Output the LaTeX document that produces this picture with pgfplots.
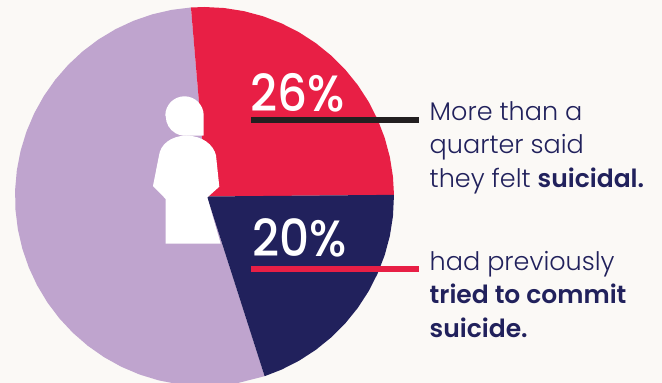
\documentclass[border=0pt]{standalone}
\usepackage{pgfplots}
\pgfplotsset{compat=1.18}
\usepackage{fontspec}
\setmainfont{Poppins Light}
\newfontfamily\semibold{Poppins SemiBold}
\newfontfamily\medium{Poppins Medium}
\definecolor{pageback}{HTML}{FBF9F6}
\definecolor{sharered}{HTML}{E81F45}
\definecolor{sharenavy}{HTML}{21215C}
\definecolor{sharelilac}{HTML}{BFA4CE}
\definecolor{rulekey}{HTML}{231F20}
\newcommand{\heavy}[1]{{\semibold\fontsize{25}{25}\selectfont #1}}
\begin{document}
\begin{tikzpicture}
\begin{axis}[
  scale only axis, width=662pt, height=383pt,
  xmin=-204.5, xmax=457.5, ymin=-186.5, ymax=196.5,
  hide axis, clip=true]
% page background
\fill[pageback] (-204.5,-186.5) rectangle (457.5,196.5);

% rest of the respondents (54%), angles in degrees
\addplot[fill=sharelilac, draw=none, data cs=polar] coordinates {
  (0,2.5) (94.1,189.5) (100,189.5) (106,189.5) (112,189.5) (118,189.5) (124,189.5)
  (130,189.5) (136,189.5) (142,189.5) (148,189.5) (154,189.5) (160,189.5) (166,189.5)
  (172,189.5) (178,189.5) (184,189.5) (190,189.5) (196,189.5) (202,189.5) (208,189.5)
  (214,189.5) (220,189.5) (226,189.5) (232,189.5) (238,189.5) (244,189.5) (250,189.5)
  (256,189.5) (262,189.5) (268,189.5) (274,189.5) (280,189.5) (288.5,189.5)} -- cycle;

% felt suicidal, 26%
\addplot[fill=sharered, draw=none, data cs=polar] coordinates {
  (0,2.5) (0.5,189.5) (6,189.5) (12,189.5) (18,189.5) (24,189.5) (30,189.5) (36,189.5)
  (42,189.5) (48,189.5) (54,189.5) (60,189.5) (66,189.5) (72,189.5) (78,189.5) (84,189.5)
  (90,189.5) (94.1,189.5)} -- cycle;

% had tried before, 20%
\addplot[fill=sharenavy, draw=none, data cs=polar] coordinates {
  (0,2.5) (0.5,189.5) (-6,189.5) (-12,189.5) (-18,189.5) (-24,189.5) (-30,189.5) (-36,189.5)
  (-42,189.5) (-48,189.5) (-54,189.5) (-60,189.5) (-66,189.5) (-71.5,189.5)} -- cycle;

% person icon
\fill[white] (-19.5,60.8) -- (-0.8,61) -- (-0.8,81) arc[start angle=0,end angle=180,radius=19.2]
  -- (-38.7,80) arc[start angle=180,end angle=285,radius=19.2] -- cycle;
\fill[white] (-18,61) .. controls (-34,60.5) and (-44,52) .. (-45.5,41)
  -- (-51.5,10.5) -- (-38.8,-2.5) -- (-38.8,-47.2) -- (16.2,-47.2) -- (2.8,-1)
  -- (14.8,9.8) -- (11.5,41) .. controls (9,52) and (-2,60.5) .. (-18,61) -- cycle;

% key rules
\addplot[rulekey, line width=6pt] coordinates {(46.5,76.5) (214.5,76.5)};
\addplot[sharered, line width=6pt] coordinates {(46.5,-72.5) (214.5,-72.5)};

% percentages
\begin{scope}[every node/.style={anchor=base west, inner sep=0pt, text=white, xscale=0.92, transform shape, font=\medium\fontsize{51}{51}\selectfont}]
\node at (45.5,84.5) {26\%};
\node at (47.5,-60.2) {20\%};
\end{scope}

% captions
\begin{scope}[every node/.style={anchor=base west, inner sep=0pt, text=sharenavy, font=\fontsize{25.5}{26}\selectfont}]
\node at (225,76) {More than a};
\node at (225,42.5) {quarter said};
\node at (225,9) {they felt \heavy{suicidal.}};
\node at (225,-74) {had previously};
\node at (225,-107.5) {\heavy{tried to commit}};
\node at (225,-141) {\heavy{suicide.}};
\end{scope}
\end{axis}
\end{tikzpicture}
\end{document}
